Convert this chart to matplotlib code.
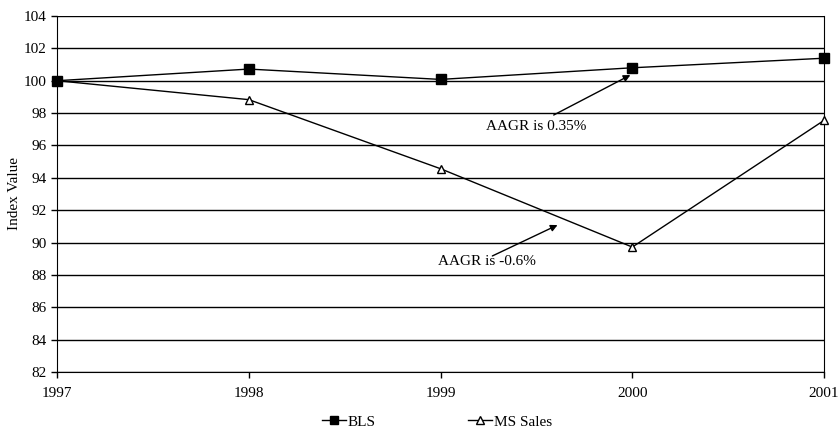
import numpy as np
import matplotlib.pyplot as plt

plt.rcParams['font.family'] = ['Liberation Serif', 'DejaVu Serif']

years = [1997, 1998, 1999, 2000, 2001]
bls = [100.0, 100.72, 100.08, 100.8, 101.39]
ms_sales = [100.0, 98.83, 94.56, 89.72, 97.55]

fig = plt.figure(figsize=(8.4, 4.38), dpi=100)
ax = fig.add_axes([0.068, 0.1507, 0.913, 0.8128])

for y in np.arange(82, 105, 2):
    ax.axhline(y, color='black', lw=1.0, zorder=1)

ax.plot(years, bls, color='black', lw=1.0, marker='s', ms=6.5,
        markerfacecolor='black', label='BLS', zorder=4, clip_on=False)
ax.plot(years, ms_sales, color='black', lw=1.0, marker='^', ms=6,
        markerfacecolor='white', markeredgewidth=1.0, label='MS Sales', zorder=3, clip_on=False)

arrow = dict(arrowstyle='-|>', color='black', lw=1.0, mutation_scale=10, shrinkA=0, shrinkB=0)
ax.text(1999.50, 97.14, 'AAGR is 0.35%', ha='center', va='center', fontsize=11)
ax.annotate('', xy=(1999.99, 100.35), xytext=(1999.59, 97.88), arrowprops=arrow)
ax.text(1999.24, 88.8, 'AAGR is -0.6%', ha='center', va='center', fontsize=11)
ax.annotate('', xy=(1999.61, 91.08), xytext=(1999.27, 89.17), arrowprops=arrow)

ax.set_xlim(1997, 2001)
ax.set_ylim(82, 104)
ax.set_xticks(years)
ax.set_yticks(np.arange(82, 105, 2))
ax.tick_params(axis='both', direction='out', length=4, width=1, labelsize=11, colors='black')
ax.tick_params(axis='x', pad=7)
ax.spines['top'].set_visible(False)
ax.spines['right'].set_visible(True)
ax.set_ylabel('Index Value', fontsize=11, labelpad=2)

fig.legend(loc='lower center', bbox_to_anchor=(0.52, -0.01), ncol=2, frameon=False,
           fontsize=11, columnspacing=6, handlelength=1.6, handletextpad=0.1, markerscale=0.85)

fig.savefig('out.png', dpi=100)
